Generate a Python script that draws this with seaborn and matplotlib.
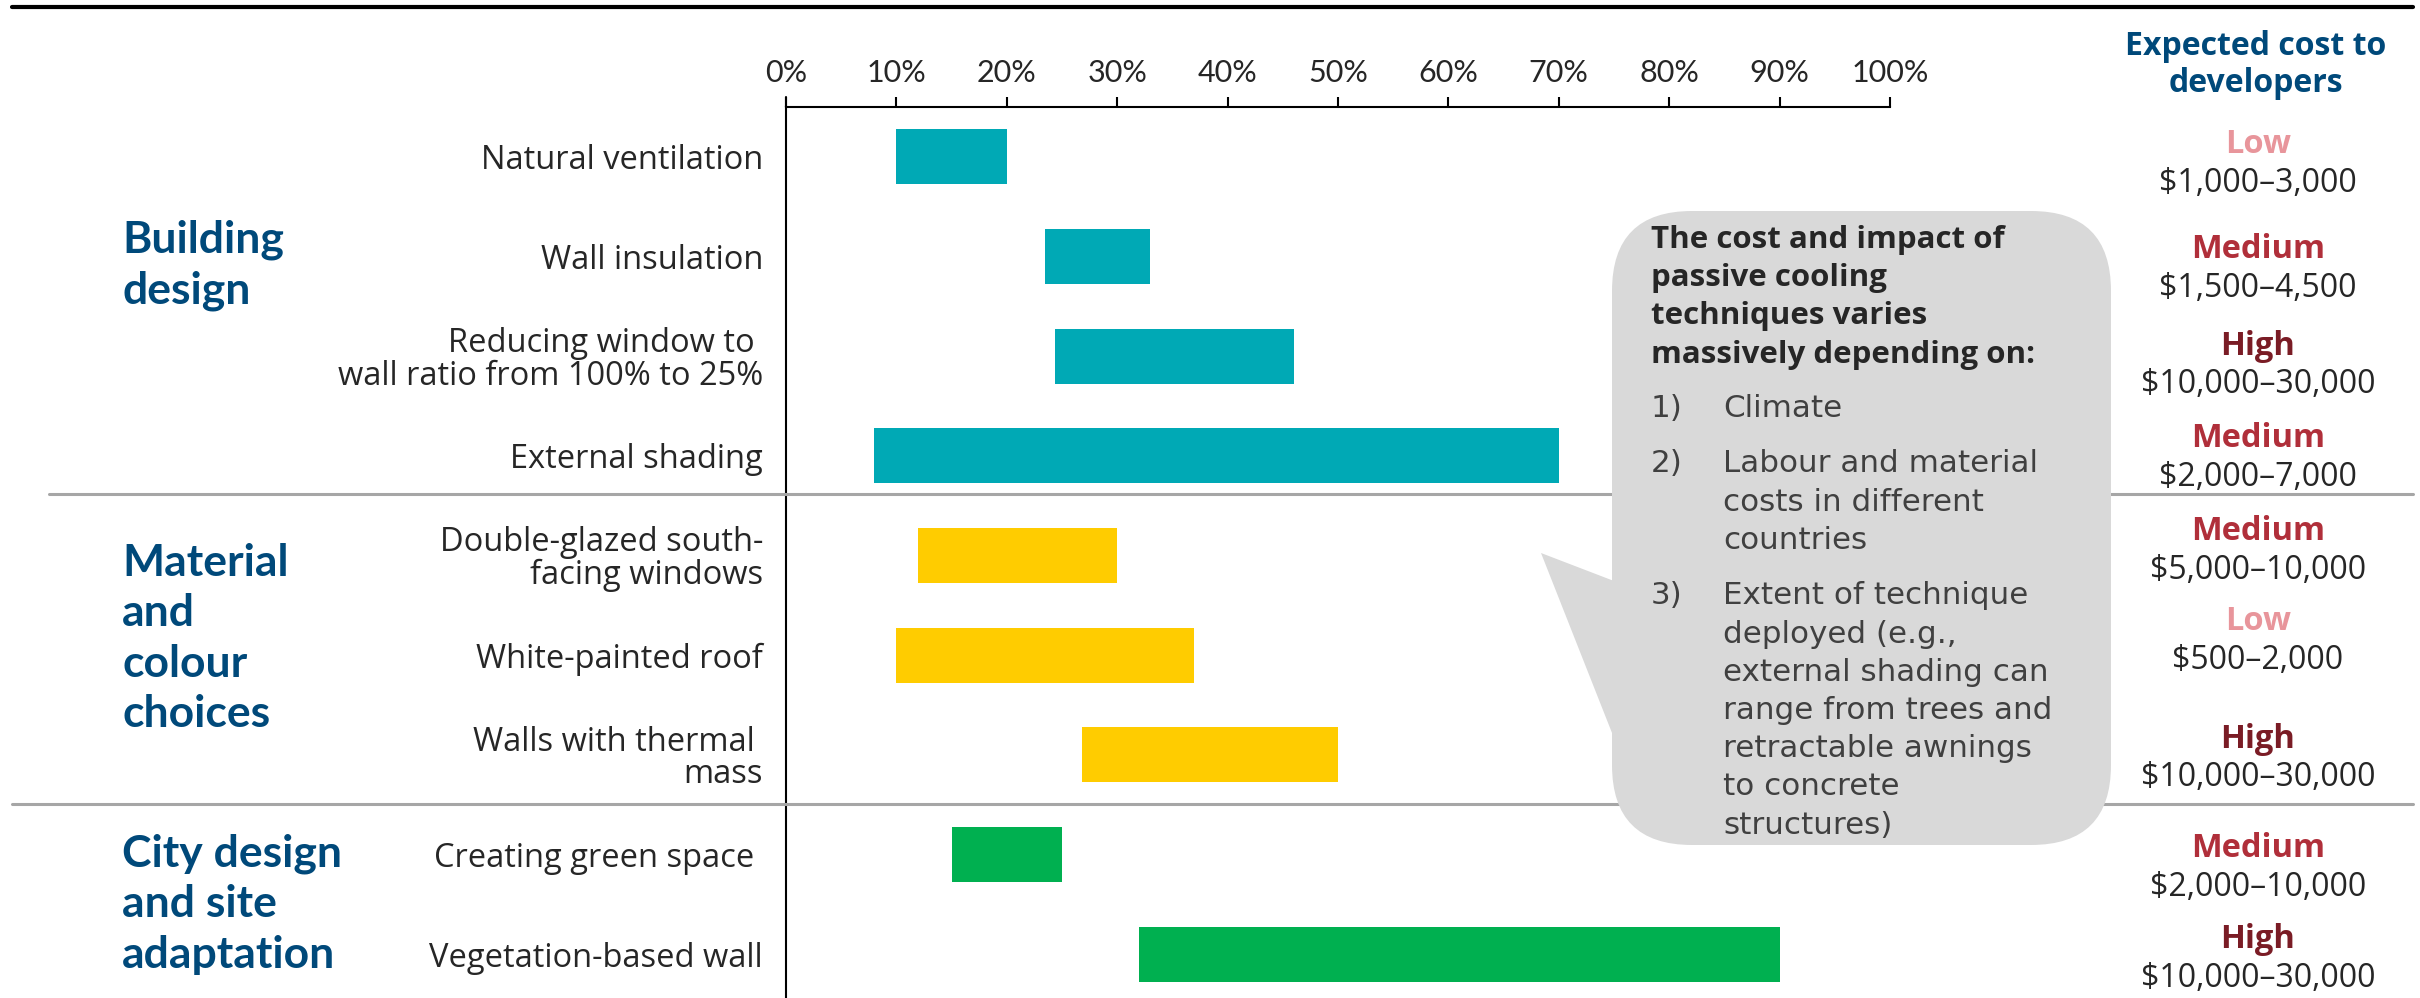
import matplotlib
matplotlib.use("Agg")
import matplotlib.pyplot as plt
import matplotlib.transforms as mtransforms
from matplotlib.patches import FancyBboxPatch, Polygon
from matplotlib.lines import Line2D
import seaborn as sns
import pandas as pd

# ---- data ---------------------------------------------------------------
techniques = [
    "Natural ventilation",
    "Wall insulation",
    "Reducing window to \nwall ratio from 100% to 25%",
    "External shading",
    "Double-glazed south-\nfacing windows",
    "White-painted roof",
    "Walls with thermal \nmass",
    "Creating green space ",
    "Vegetation-based wall",
]
groups = (["Building design"] * 4
          + ["Material and colour choices"] * 3
          + ["City design and site adaptation"] * 2)
impact_low = [10, 23.5, 24.4, 8, 12, 10, 26.8, 15, 32]
impact_high = [20, 33, 46, 70, 30, 37, 50, 25, 90]
cost_levels = ["Low", "Medium", "High", "Medium", "Medium", "Low", "High", "Medium", "High"]
cost_ranges = ["$1,000–3,000", "$1,500–4,500", "$10,000–30,000", "$2,000–7,000",
               "$5,000–10,000", "$500–2,000", "$10,000–30,000", "$2,000–10,000",
               "$10,000–30,000"]
group_titles = [["Building", "design"],
                ["Material", "and", "colour", "choices"],
                ["City design", "and site", "adaptation"]]
x_ticks = [0, 10, 20, 30, 40, 50, 60, 70, 80, 90, 100]
cost_header = ["Expected cost to", "developers"]
callout_title = ["The cost and impact of", "passive cooling",
                 "techniques varies", "massively depending on:"]
callout_factors = [["Climate"],
                   ["Labour and material", "costs in different", "countries"],
                   ["Extent of technique", "deployed (e.g.,", "external shading can",
                    "range from trees and", "retractable awnings", "to concrete",
                    "structures)"]]

# ---- styling ------------------------------------------------------------
group_colors = {"Building design": "#00A9B5",
                "Material and colour choices": "#FFCC00",
                "City design and site adaptation": "#00B050"}
level_colors = {"Low": "#E8959B", "Medium": "#B02F3A", "High": "#7A1C25"}
BLUE = "#00497A"
TEXT = "#262626"
GREY_LINE = "#A6A6A6"
BUBBLE = "#D9D9D9"
LATO = ["Lato", "DejaVu Sans"]
WIDE = ["DejaVu Sans"]
# vertical nudge (pixels, downward) of each cost label pair relative to its row
cost_nudge = [-3.5, 2, -1.5, -8.5, -15, -25, -7, 3, -6]

sns.set_theme(style="white")
plt.rcParams["font.family"] = ["Open Sans", "DejaVu Sans"]

W, H = 2420, 998
fig = plt.figure(figsize=(W / 100, H / 100), dpi=100)
# pixel coordinates measured from the top-left corner
px = mtransforms.Affine2D().scale(1 / W, -1 / H).translate(0, 1) + fig.transFigure

ax_left, ax_right, ax_top = 786, 1890, 107
ax = fig.add_axes([ax_left / W, 0, (ax_right - ax_left) / W, 1 - ax_top / H])

df = pd.DataFrame({"technique": techniques, "group": groups,
                   "low": impact_low, "high": impact_high})
sns.barplot(data=df, y="technique", x="high", hue="group", order=techniques,
            hue_order=list(group_colors), palette=group_colors, dodge=False,
            width=0.55, saturation=1, legend=False, linewidth=0, ax=ax)

# turn each bar into a floating range bar (low -> high)
for bar in ax.patches:
    row = int(round(bar.get_y() + bar.get_height() / 2))
    bar.set_x(impact_low[row])
    bar.set_width(impact_high[row] - impact_low[row])

ax.set_xlim(0, 100)
ax.set_ylim(8.44, -0.5)
ax.set_xlabel("")
ax.set_ylabel("")
ax.set_xticks(x_ticks)
ax.set_xticklabels([f"{t}%" for t in x_ticks], family=LATO)
ax.xaxis.set_ticks_position("top")
ax.tick_params(axis="x", which="both", top=True, bottom=False, labeltop=True,
               labelbottom=False, direction="out", length=7.2, width=1.5,
               color="black", pad=7, labelsize=22, labelcolor=TEXT)
ax.tick_params(axis="y", length=0, pad=16.5, labelsize=23.5, labelcolor=TEXT)
for lab in ax.get_yticklabels():
    lab.set_ha("right")
    lab.set_multialignment("right")
    lab.set_linespacing(0.98)
for side in ["right", "bottom"]:
    ax.spines[side].set_visible(False)
for side in ["top", "left"]:
    ax.spines[side].set_visible(True)
    ax.spines[side].set_color("black")
    ax.spines[side].set_linewidth(1.5)
ax.grid(False)
ax.set_facecolor("none")

# frame lines
fig.add_artist(Line2D([12, 2413], [7, 7], transform=px, color="black", lw=3.0, zorder=1))
fig.add_artist(Line2D([ax_left, ax_left], [97, ax_top], transform=px, color="black",
                      lw=1.5, zorder=1))
fig.add_artist(Line2D([49, 2413], [494, 494], transform=px, color=GREY_LINE, lw=2.2, zorder=1))
fig.add_artist(Line2D([12, 2413], [804, 804], transform=px, color=GREY_LINE, lw=2.2, zorder=1))

# group headings
group_baselines = [253, 576, 867]
for lines, y0 in zip(group_titles, group_baselines):
    for k, line in enumerate(lines):
        fig.text(122, y0 + 50.5 * k, line, transform=px, ha="left", va="baseline",
                 fontsize=32, fontweight="bold", color=BLUE, family=LATO)

# cost column
for k, line in enumerate(cost_header):
    fig.text(2256, 55 + 37 * k, line, transform=px, ha="center", va="baseline",
             fontsize=23, fontweight="bold", color=BLUE)
for row, (lvl, rng) in enumerate(zip(cost_levels, cost_ranges)):
    d = cost_nudge[row]
    ax.annotate(lvl, xy=(2258, row), xycoords=("figure pixels", "data"),
                xytext=(0, -d), textcoords="offset pixels", ha="center", va="baseline",
                fontsize=23.5, fontweight="bold", color=level_colors[lvl],
                annotation_clip=False)
    ax.annotate(rng, xy=(2258, row), xycoords=("figure pixels", "data"),
                xytext=(0, -(d + 38.5)), textcoords="offset pixels", ha="center",
                va="baseline", fontsize=23, color=TEXT, annotation_clip=False)

# callout bubble
fig.add_artist(FancyBboxPatch((1612, 211), 499, 634,
                              boxstyle="round,pad=0,rounding_size=80",
                              transform=px, facecolor=BUBBLE, edgecolor="none", zorder=3))
fig.add_artist(Polygon([(1541, 553), (1614, 581), (1614, 738)], closed=True,
                       transform=px, facecolor=BUBBLE, edgecolor="none", zorder=3))
for k, line in enumerate(callout_title):
    fig.text(1651, 248 + 38.2 * k, line, transform=px, ha="left", va="baseline",
             fontsize=22.5, fontweight="bold", color=TEXT, zorder=4)
y = 417
for n, item in enumerate(callout_factors, start=1):
    fig.text(1651, y, f"{n})", transform=px, ha="left", va="baseline",
             fontsize=22.3, color="#404040", family=WIDE, zorder=4)
    for k, line in enumerate(item):
        fig.text(1723, y, line, transform=px, ha="left", va="baseline",
                 fontsize=22.3, color="#404040", family=WIDE, zorder=4)
        if k < len(item) - 1:
            y += 38.2
    y += 55.5

fig.savefig("out.png", dpi=100, facecolor="white")
